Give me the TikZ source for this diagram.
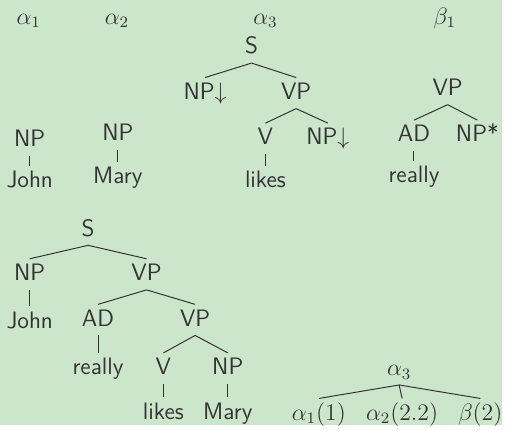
\documentclass[tikz,border=0pt]{standalone}
\usepackage{fontspec}

\definecolor{slidebg}{RGB}{204,230,204}
\definecolor{ink}{RGB}{51,51,51}

\tikzset{
  lbl/.style={font=\sffamily\fontsize{12}{14}\selectfont, text=ink,
    inner sep=2.3pt, text height=8.5pt, text depth=2.2pt},
  edge/.style={draw=ink, line width=0.5pt}
}

\begin{document}
\begin{tikzpicture}[x=0.5pt,y=-0.5pt]

\fill[slidebg] (0,0) rectangle (507,429);

% names of the elementary trees
\node[lbl] (alphaA) at (29,18) {$\alpha_1$};
\node[lbl] (alphaB) at (118,18) {$\alpha_2$};
\node[lbl] (alphaC) at (268,18) {$\alpha_3$};
\node[lbl] (betaA) at (449,18) {$\beta_1$};

% alpha_1
\node[lbl] (anp) at (30,142) {NP};
\node[lbl] (ajohn) at (30,183) {John};

% alpha_2
\node[lbl] (bnp) at (119,136) {NP};
\node[lbl] (bmary) at (119,179) {Mary};

% alpha_3
\node[lbl] (cs) at (254,48) {S};
\node[lbl] (cnp) at (207,94) {NP$\downarrow$};
\node[lbl] (cvp) at (299,94) {VP};
\node[lbl] (cv) at (268,140) {V};
\node[lbl] (cnpb) at (331,140) {NP$\downarrow$};
\node[lbl] (clikes) at (268,183) {likes};

% beta_1
\node[lbl] (dvp) at (452,90) {VP};
\node[lbl] (dad) at (418,137) {AD};
\node[lbl] (dnp) at (482,137) {NP*};
\node[lbl] (dreally) at (418,178) {really};

% derived tree
\node[lbl] (es) at (89,232) {S};
\node[lbl] (enp) at (30,277) {NP};
\node[lbl] (evp) at (148,277) {VP};
\node[lbl] (ejohn) at (30,325) {John};
\node[lbl] (ead) at (99,323) {AD};
\node[lbl] (evpb) at (197,323) {VP};
\node[lbl] (ereally) at (99,372) {really};
\node[lbl] (ev) at (165,372) {V};
\node[lbl] (enpb) at (230,372) {NP};
\node[lbl] (elikes) at (165,417) {likes};
\node[lbl] (emary) at (230,417) {Mary};

% derivation tree
\node[lbl] (froot) at (403,373) {$\alpha_3$};
\node[lbl] (fa) at (322,418) {$\alpha_1(1)$};
\node[lbl] (fb) at (406,418) {$\alpha_2(2.2)$};
\node[lbl] (fc) at (485,418) {$\beta(2)$};

\foreach \p/\c in {anp/ajohn, bnp/bmary,
    cs/cnp, cs/cvp, cvp/cv, cvp/cnpb, cv/clikes,
    dvp/dad, dvp/dnp, dad/dreally,
    es/enp, es/evp, enp/ejohn, evp/ead, evp/evpb, ead/ereally,
    evpb/ev, evpb/enpb, ev/elikes, enpb/emary,
    froot/fa, froot/fb, froot/fc}
  \draw[edge] (\p.south) -- (\c.north);

\end{tikzpicture}
\end{document}
